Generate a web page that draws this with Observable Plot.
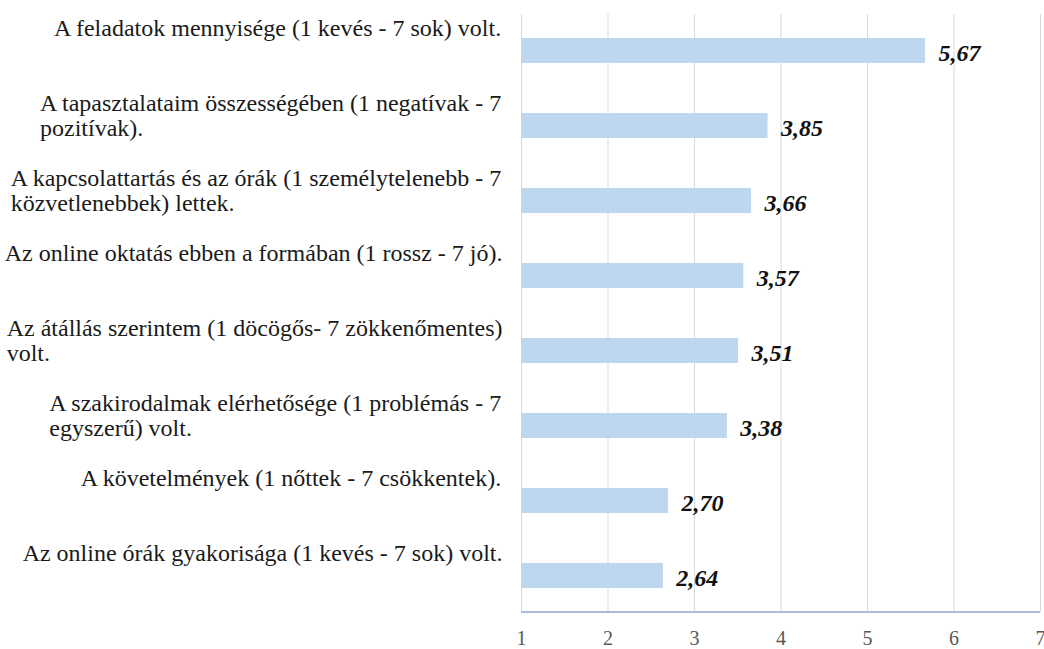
<!DOCTYPE html>
<html>
<head>
<meta charset="utf-8">
<script src="https://cdn.jsdelivr.net/npm/d3@7"></script>
<script src="https://cdn.jsdelivr.net/npm/@observablehq/plot@0.6"></script>
<style>
  html, body { margin: 0; padding: 0; background: #fff; }
  #chart svg { overflow: visible; }
</style>
</head>
<body>
<div id="chart"></div>
<script>
const categories = [
  "A feladatok mennyisége (1 kevés - 7 sok) volt.",
  "A tapasztalataim összességében (1 negatívak - 7\npozitívak).",
  "A kapcsolattartás és az órák (1 személytelenebb - 7\nközvetlenebbek) lettek.",
  "Az online oktatás ebben a formában (1 rossz - 7 jó).",
  "Az átállás szerintem (1 döcögős- 7 zökkenőmentes)\nvolt.",
  "A szakirodalmak elérhetősége (1 problémás - 7\negyszerű) volt.",
  "A követelmények (1 nőttek - 7 csökkentek).",
  "Az online órák gyakorisága (1 kevés - 7 sok) volt."
];
const values = [5.67, 3.85, 3.66, 3.57, 3.51, 3.38, 2.70, 2.64];
const xTicks = [1, 2, 3, 4, 5, 6, 7];

const data = categories.map((c, i) => ({category: c, value: values[i]}));

const FONT = "'Liberation Serif', 'Times New Roman', 'DejaVu Serif', serif";
const labelSize = 24;
const canvas = document.createElement("canvas");
const ctx = canvas.getContext("2d");
ctx.font = `${labelSize}px ${FONT}`;
const blockWidth = c => d3.max(c.split("\n"), l => ctx.measureText(l).width);

const labelGap = 19;
const labelMarks = categories.map(c =>
  Plot.text([c], {
    y: d => d,
    text: d => d,
    frameAnchor: "left",
    textAnchor: "start",
    lineAnchor: "top",
    dx: -labelGap - blockWidth(c),
    dy: -33,
    lineHeight: 1.05,
    fontSize: labelSize,
    fontFamily: FONT,
    fill: "#1a1a1a"
  })
);

const baseLine = (index, scales, values, dims) => {
  const [x0, x1] = [scales.x(1), scales.x(7)];
  const yb = dims.height - dims.marginBottom;
  const line = document.createElementNS("http://www.w3.org/2000/svg", "line");
  line.setAttribute("x1", x0);
  line.setAttribute("x2", x1);
  line.setAttribute("y1", yb);
  line.setAttribute("y2", yb);
  line.setAttribute("stroke", "#a9bcdc");
  line.setAttribute("stroke-width", 2);
  return line;
};

const chart = Plot.plot({
  width: 1044,
  height: 649,
  marginLeft: 521,
  marginRight: 4,
  marginTop: 14,
  marginBottom: 37,
  style: {fontFamily: FONT, background: "#fff"},
  x: {domain: [1, 7], ticks: xTicks},
  y: {domain: categories, paddingInner: 0.66, paddingOuter: 0.31, axis: null},
  marks: [
    Plot.gridX(xTicks, {stroke: "#d9d9d9", strokeOpacity: 1, strokeWidth: 1}),
    Plot.barX(data, {x1: 1, x2: "value", y: "category", fill: "#bdd7ee"}),
    baseLine,
    Plot.axisX(xTicks, {tickSize: 0, tickPadding: 18, fontSize: 20, fontFamily: FONT, fill: "#595959", label: null, tickFormat: d => String(d)}),
    ...labelMarks,
    Plot.text(data, {
      x: "value",
      y: "category",
      text: d => d3.format(".2f")(d.value).replace(".", ","),
      textAnchor: "start",
      dx: 13,
      dy: 2,
      fontSize: 24,
      fontFamily: FONT,
      fontWeight: "bold",
      fontStyle: "italic",
      fill: "#111"
    })
  ]
});
document.getElementById("chart").append(chart);
</script>
</body>
</html>
